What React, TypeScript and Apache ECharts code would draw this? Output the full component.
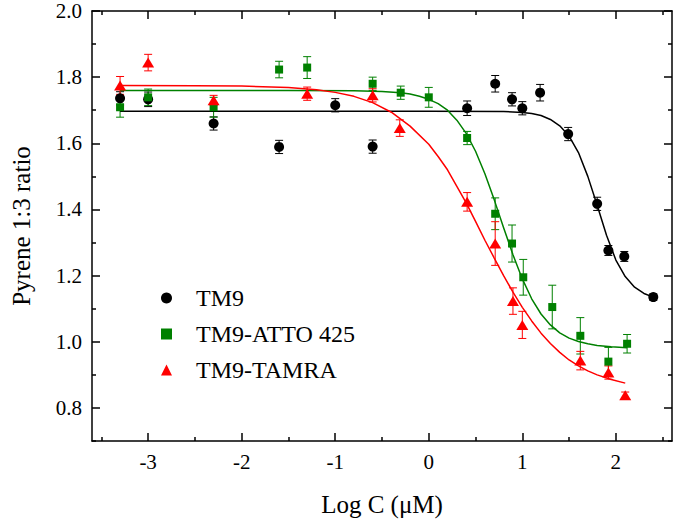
import React, { useEffect, useRef } from "react";
import * as echarts from "echarts";

// ---- Data ----
const tm9X = [-3.3, -3.0, -2.3, -1.6, -1.0, -0.6, 0.41, 0.71, 0.89, 1.0, 1.19, 1.49, 1.8, 1.92, 2.09, 2.4];
const tm9Y = [1.736, 1.733, 1.66, 1.589, 1.715, 1.59, 1.706, 1.78, 1.733, 1.706, 1.753, 1.628, 1.417, 1.276, 1.258, 1.135];
const tm9Err = [0.02, 0.022, 0.02, 0.02, 0.02, 0.02, 0.022, 0.025, 0.02, 0.02, 0.025, 0.02, 0.02, 0.015, 0.015, 0.01];

const attoX = [-3.3, -3.0, -2.3, -1.6, -1.3, -0.6, -0.3, 0.0, 0.41, 0.71, 0.89, 1.01, 1.32, 1.62, 1.92, 2.12];
const attoY = [1.709, 1.739, 1.709, 1.823, 1.829, 1.78, 1.753, 1.739, 1.616, 1.387, 1.297, 1.195, 1.105, 1.018, 0.94, 0.994];
const attoErr = [0.03, 0.025, 0.03, 0.025, 0.033, 0.02, 0.02, 0.03, 0.02, 0.048, 0.056, 0.054, 0.066, 0.055, 0.043, 0.028];

const tamraX = [-3.3, -3.0, -2.3, -1.3, -0.6, -0.31, 0.41, 0.71, 0.9, 1.0, 1.62, 1.92, 2.1];
const tamraY = [1.775, 1.844, 1.73, 1.75, 1.745, 1.646, 1.423, 1.297, 1.123, 1.051, 0.943, 0.907, 0.838];
const tamraErr = [0.027, 0.025, 0.015, 0.02, 0.02, 0.025, 0.028, 0.066, 0.04, 0.041, 0.028, 0.02, 0.01];

// fitted curves
const tm9FitX = [-3.3, 0, 0.8, 0.9, 1.0, 1.1, 1.2, 1.3, 1.4, 1.5, 1.6, 1.7, 1.8, 1.9, 2.0, 2.1, 2.2, 2.3, 2.4];
const tm9FitY = [1.697, 1.697, 1.696, 1.695, 1.693, 1.69, 1.684, 1.672, 1.653, 1.622, 1.572, 1.5, 1.413, 1.322, 1.247, 1.197, 1.165, 1.146, 1.135];

const attoFitX = [-3.3, -1.5, -0.8, -0.5, -0.3, -0.2, -0.1, 0, 0.1, 0.2, 0.3, 0.4, 0.5, 0.6, 0.7, 0.8, 0.9, 1.0, 1.1, 1.2, 1.3, 1.4, 1.5, 1.6, 1.7, 1.8, 1.95, 2.12];
const attoFitY = [1.76, 1.76, 1.759, 1.757, 1.753, 1.749, 1.742, 1.733, 1.72, 1.7, 1.67, 1.63, 1.576, 1.508, 1.429, 1.345, 1.263, 1.19, 1.13, 1.084, 1.051, 1.027, 1.011, 1.001, 0.994, 0.989, 0.985, 0.982];

const tamraFitX = [-3.3, -2.5, -2, -1.5, -1.2, -1, -0.8, -0.6, -0.4, -0.2, 0, 0.1, 0.2, 0.3, 0.4, 0.5, 0.6, 0.7, 0.8, 0.9, 1.0, 1.1, 1.2, 1.3, 1.4, 1.5, 1.6, 1.7, 1.8, 1.95, 2.1];
const tamraFitY = [1.775, 1.774, 1.773, 1.769, 1.762, 1.754, 1.742, 1.723, 1.694, 1.652, 1.597, 1.56, 1.52, 1.47, 1.42, 1.364, 1.307, 1.253, 1.2, 1.15, 1.104, 1.063, 1.026, 0.995, 0.968, 0.945, 0.927, 0.912, 0.9, 0.886, 0.875];

const xMajor = [-3, -2, -1, 0, 1, 2];
const xMinor = [-3.5, -2.5, -1.5, -0.5, 0.5, 1.5, 2.5];
const yMajor = [0.8, 1.0, 1.2, 1.4, 1.6, 1.8, 2.0];
const yMinor = [0.7, 0.9, 1.1, 1.3, 1.5, 1.7, 1.9];

const names = ["TM9", "TM9-ATTO 425", "TM9-TAMRA"];
const colors = ["#000000", "#008000", "#ff0000"];

const FONT = "'Liberation Serif', 'Times New Roman', serif";

const pairs = (xs: number[], ys: number[]) => xs.map((x, i) => [x, ys[i]]);
const triples = (xs: number[], ys: number[], es: number[]) => xs.map((x, i) => [x, ys[i], es[i]]);

function errorBars(name: string, data: number[][], color: string) {
  return {
    type: "custom",
    name,
    data,
    z: 2,
    silent: true,
    encode: { x: 0, y: 1 },
    renderItem: (params: any, api: any) => {
      const x = api.value(0);
      const y = api.value(1);
      const e = api.value(2);
      const t = api.coord([x, y + e]);
      const b = api.coord([x, y - e]);
      const w = 4;
      const st = { stroke: color, lineWidth: 1 };
      return {
        type: "group",
        children: [
          { type: "line", shape: { x1: t[0], y1: t[1], x2: b[0], y2: b[1] }, style: st },
          { type: "line", shape: { x1: t[0] - w, y1: t[1], x2: t[0] + w, y2: t[1] }, style: st },
          { type: "line", shape: { x1: b[0] - w, y1: b[1], x2: b[0] + w, y2: b[1] }, style: st },
        ],
      };
    },
  };
}

function fitLine(name: string, data: number[][], color: string) {
  return {
    type: "line",
    name,
    data,
    showSymbol: false,
    symbol: "none",
    smooth: false,
    lineStyle: { color, width: 1.5, opacity: 1 },
    z: 3,
    silent: true,
  };
}

const lineStyle = { color: "#000", width: 1.5 };

function xAx(position: string, ticks: number[], len: number, main: boolean, label: boolean) {
  return {
    type: "value",
    position,
    min: -3.6,
    max: 2.6,
    axisLine: { show: main, lineStyle, onZero: false },
    axisTick: { show: true, inside: true, length: len, customValues: ticks, lineStyle },
    axisLabel: label
      ? { show: true, customValues: xMajor, margin: 10, color: "#000", fontSize: 21, fontFamily: FONT, formatter: (v: number) => String(v) }
      : { show: false },
    splitLine: { show: false },
    minorTick: { show: false },
    ...(label
      ? {
          name: "Log C (\u03bcM)",
          nameLocation: "middle",
          nameGap: 51,
          nameTextStyle: { color: "#000", fontSize: 25, fontFamily: FONT },
        }
      : {}),
  };
}

function yAx(position: string, ticks: number[], len: number, main: boolean, label: boolean) {
  return {
    type: "value",
    position,
    min: 0.7,
    max: 2.0,
    axisLine: { show: main, lineStyle, onZero: false },
    axisTick: { show: true, inside: true, length: len, customValues: ticks, lineStyle },
    axisLabel: label
      ? { show: true, customValues: yMajor, margin: 10, color: "#000", fontSize: 21, fontFamily: FONT, formatter: (v: number) => v.toFixed(1) }
      : { show: false },
    splitLine: { show: false },
    minorTick: { show: false },
    ...(label
      ? {
          name: "Pyrene 1:3 ratio",
          nameLocation: "middle",
          nameGap: 58,
          nameRotate: 90,
          nameTextStyle: { color: "#000", fontSize: 25, fontFamily: FONT },
        }
      : {}),
  };
}

export default function App() {
  const ref = useRef<HTMLDivElement>(null);
  useEffect(() => {
    document.body.style.margin = "0";
    const chart = echarts.init(ref.current!, null, { renderer: "svg" });
    const option: any = {
      animation: false,
      backgroundColor: "#ffffff",
      grid: { left: 92, right: 3, top: 11, bottom: 79, containLabel: false, outerBoundsMode: "none" },
      legend: {
        data: names,
        orient: "vertical",
        left: 161,
        top: 286,
        padding: 0,
        itemGap: 12,
        itemWidth: 11,
        itemHeight: 11,
        textStyle: { color: "#000", fontSize: 24, fontFamily: FONT, padding: [0, 0, 0, 19] },
        selectedMode: false,
      },
      xAxis: [
        xAx("bottom", xMajor, 8, true, true),
        xAx("bottom", xMinor, 4, false, false),
        xAx("top", xMajor, 8, true, false),
        xAx("top", xMinor, 4, false, false),
      ],
      yAxis: [
        yAx("left", yMajor, 8, true, true),
        yAx("left", yMinor, 4, false, false),
        yAx("right", yMajor, 8, true, false),
        yAx("right", yMinor, 4, false, false),
      ],
      series: [
        fitLine("TM9 fit", pairs(tm9FitX, tm9FitY), colors[0]),
        fitLine("TM9-ATTO 425 fit", pairs(attoFitX, attoFitY), colors[1]),
        fitLine("TM9-TAMRA fit", pairs(tamraFitX, tamraFitY), colors[2]),
        errorBars("TM9 err", triples(tm9X, tm9Y, tm9Err), colors[0]),
        errorBars("TM9-ATTO 425 err", triples(attoX, attoY, attoErr), colors[1]),
        errorBars("TM9-TAMRA err", triples(tamraX, tamraY, tamraErr), colors[2]),
        {
          type: "scatter",
          name: names[0],
          data: pairs(tm9X, tm9Y),
          symbol: "circle",
          symbolSize: 10,
          itemStyle: { color: colors[0], opacity: 1 },
          z: 4,
        },
        {
          type: "scatter",
          name: names[1],
          data: pairs(attoX, attoY),
          symbol: "rect",
          symbolSize: 8,
          itemStyle: { color: colors[1], opacity: 1 },
          z: 4,
        },
        {
          type: "scatter",
          name: names[2],
          data: pairs(tamraX, tamraY),
          symbol: "triangle",
          symbolSize: [12, 10],
          itemStyle: { color: colors[2], opacity: 1 },
          z: 4,
        },
      ],
    };
    chart.setOption(option);
    return () => chart.dispose();
  }, []);
  return <div ref={ref} style={{ position: "absolute", left: 0, top: 0, width: 675, height: 520 }} />;
}
